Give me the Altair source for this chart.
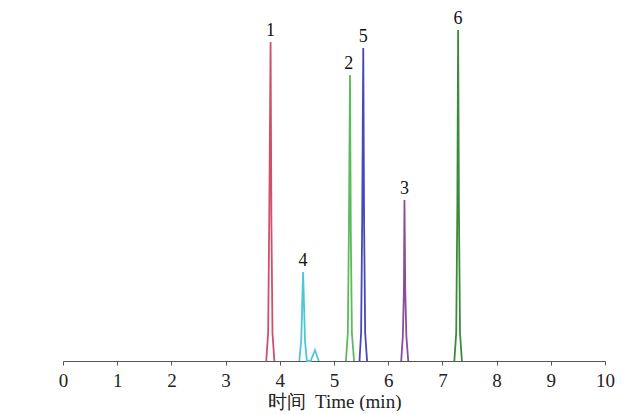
import altair as alt
import pandas as pd

# Peak traces (time in min, response in arbitrary units)
p1_t = [3.75, 3.785, 3.805, 3.83, 3.845, 3.865, 3.90]
p1_h = [0, 28, 140, 319, 140, 28, 0]
p4_t = [4.36, 4.395, 4.415, 4.43, 4.445, 4.465, 4.50, 4.57, 4.62, 4.65, 4.68, 4.72]
p4_h = [0, 20, 60, 89, 60, 20, 0, 0, 7, 11, 6, 0]
p2_t = [5.22, 5.255, 5.275, 5.295, 5.31, 5.33, 5.37]
p2_h = [0, 28, 130, 286, 130, 28, 0]
p5_t = [5.47, 5.50, 5.52, 5.54, 5.555, 5.575, 5.61]
p5_h = [0, 28, 140, 313, 140, 28, 0]
p3_t = [6.24, 6.27, 6.29, 6.30, 6.315, 6.335, 6.37]
p3_h = [0, 25, 70, 161, 70, 25, 0]
p6_t = [7.22, 7.255, 7.275, 7.29, 7.305, 7.325, 7.36]
p6_h = [0, 28, 150, 331, 150, 28, 0]

peak_labels = ["1", "4", "2", "5", "3", "6"]
peak_colors = ["#d24f69", "#4fc6d6", "#5dba5d", "#4848bc", "#8c4c9c", "#3a8c3a"]
apex_t = [3.83, 4.43, 5.27, 5.54, 6.30, 7.29]
apex_h = [319, 89, 286, 313, 161, 331]

x_ticks = [0, 1, 2, 3, 4, 5, 6, 7, 8, 9, 10]

traces = [(p1_t, p1_h), (p4_t, p4_h), (p2_t, p2_h), (p5_t, p5_h), (p3_t, p3_h), (p6_t, p6_h)]
rows = []
for lab, (ts, hs) in zip(peak_labels, traces):
    for i, (t, h) in enumerate(zip(ts, hs)):
        rows.append({"peak": lab, "t": t, "h": h, "order": i})
df = pd.DataFrame(rows)
lab_df = pd.DataFrame({"peak": peak_labels, "t": apex_t, "h": apex_h})

xscale = alt.Scale(domain=[0, 10], nice=False, zero=False)
yscale = alt.Scale(domain=[0, 337], nice=False)
color = alt.Color("peak:N", scale=alt.Scale(domain=peak_labels, range=peak_colors), legend=None)

xaxis = alt.Axis(
    values=x_ticks, ticks=True, tickSize=4, tickColor="#555", grid=False,
    labelFont="Liberation Serif", labelFontSize=19, labelFlush=False,
    labelColor="#222", labelPadding=6, domainColor="#555", domainWidth=1.2,
    title="时间\u00a0\u00a0Time (min)", titleFont="Liberation Serif", titleFontSize=19,
    titleFontWeight="normal", titleColor="#222", titlePadding=2,
)

lines = alt.Chart(df).mark_line(strokeWidth=1.8).encode(
    x=alt.X("t:Q", scale=xscale, axis=xaxis),
    y=alt.Y("h:Q", scale=yscale, axis=None),
    color=color,
    detail="peak:N",
    order="order:Q",
)

labels = alt.Chart(lab_df).mark_text(
    font="Liberation Serif", fontSize=18, dy=-11, baseline="middle", color="#111"
).encode(
    x=alt.X("t:Q", scale=xscale),
    y=alt.Y("h:Q", scale=yscale),
    text="peak:N",
)

chart = alt.layer(lines, labels).properties(
    width=542, height=337,
    autosize=alt.AutoSizeParams(type="none"),
    padding={"left": 55, "top": 16, "right": 10, "bottom": 50},
    background="white",
).configure_view(strokeWidth=0)

chart.save("out.html", embed_options={"renderer": "svg", "actions": False})
